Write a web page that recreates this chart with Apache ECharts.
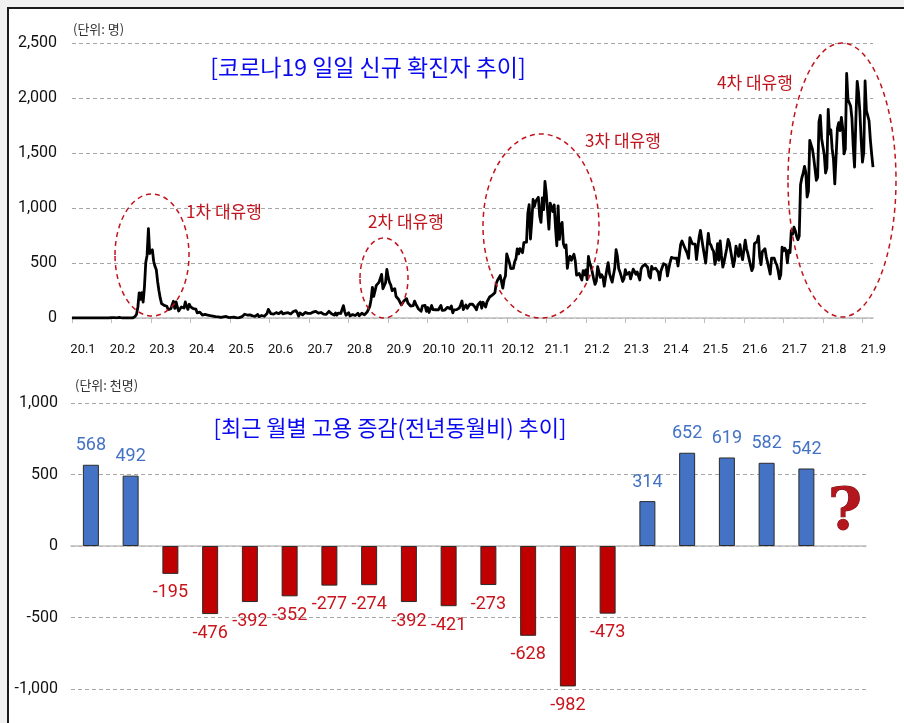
<!DOCTYPE html>
<html>
<head>
<meta charset="utf-8">
<title>코로나19 확진자와 고용 증감</title>
<script src="https://cdn.jsdelivr.net/npm/echarts@6/dist/echarts.min.js"></script>
<style>
  html, body { margin: 0; padding: 0; background: #f0f0f0; }
  #frame { position: absolute; left: 7px; top: 7px; width: 920px; height: 740px; border: 2px solid #1a1a1a; background: #fff; }
  #chart { position: absolute; left: 0; top: 0; width: 904px; height: 723px; }
</style>
</head>
<body>
<div id="frame"></div>
<div id="chart"></div>
<script>
// daily new confirmed cases, one row per month, from 2020-01-01
const caseStart = '2020-01-01'
const cases2020 = [
  0, 0, 0, 0, 0, 0, 0, 0, 0, 0, 0, 0, 0, 0, 0, 0, 0, 0, 0, 1, 0, 0, 0, 1, 0, 1, 1, 0, 0, 3, 4,
  1, 3, 0, 1, 2, 5, 1, 0, 3, 0, 1, 0, 0, 0, 0, 0, 1, 15, 34, 100, 229, 169, 231, 144, 284, 505, 571, 813, 586,
  599, 620, 516, 470, 438, 330, 248, 180, 131, 142, 114, 110, 107, 76, 74, 84, 93, 152, 87, 147, 98, 64, 76, 100, 104, 91, 146, 105, 78, 125, 101,
  89, 86, 94, 81, 47, 47, 53, 39, 27, 30, 32, 25, 27, 27, 22, 22, 18, 8, 13, 9, 11, 8, 6, 10, 10, 10, 14, 9, 4, 9,
  6, 13, 8, 3, 2, 2, 4, 3, 12, 18, 34, 35, 27, 26, 29, 27, 19, 13, 15, 13, 32, 12, 20, 23, 25, 16, 19, 40, 79, 58, 39,
  27, 35, 38, 49, 39, 39, 51, 57, 38, 50, 45, 56, 48, 34, 37, 43, 59, 49, 67, 48, 17, 46, 51, 28, 39, 51, 62, 42, 43, 42,
  51, 54, 63, 61, 48, 44, 62, 50, 45, 35, 44, 33, 39, 61, 60, 39, 34, 26, 45, 26, 45, 63, 41, 58, 113, 58, 25, 28, 48, 18, 36,
  31, 30, 23, 33, 43, 20, 34, 43, 36, 28, 34, 54, 56, 103, 166, 279, 197, 246, 297, 288, 324, 332, 397, 266, 280, 320, 441, 371, 323, 299, 248,
  235, 267, 195, 198, 168, 167, 119, 136, 156, 155, 176, 136, 121, 109, 106, 113, 153, 126, 110, 82, 70, 61, 110, 125, 114, 61, 95, 50, 38, 113,
  77, 63, 75, 64, 73, 75, 114, 69, 54, 72, 58, 97, 102, 84, 110, 47, 73, 91, 76, 58, 91, 121, 155, 77, 61, 119, 88, 103, 125, 114, 127,
  124, 97, 75, 118, 125, 145, 89, 143, 126, 100, 146, 143, 191, 205, 208, 223, 230, 313, 343, 363, 386, 330, 271, 349, 382, 583, 569, 504, 450, 438,
  451, 511, 540, 629, 583, 631, 615, 594, 686, 682, 689, 950, 1030, 718, 880, 1078, 1014, 1062, 1053, 1097, 926, 869, 1092, 985, 1241, 1132, 970, 808, 1045, 1050, 967
]
const cases2021 = [
  1029, 824, 657, 1020, 715, 840, 869, 674, 641, 665, 451, 537, 562, 524, 513, 580, 520, 389, 386, 404, 400, 346, 431, 392, 437, 349, 559, 497, 469, 458, 355,
  305, 336, 467, 451, 370, 393, 372, 289, 303, 444, 504, 403, 362, 326, 344, 457, 621, 561, 448, 416, 416, 332, 357, 440, 396, 406, 415, 355,
  344, 444, 424, 398, 418, 416, 346, 446, 470, 465, 488, 490, 459, 382, 363, 469, 445, 463, 452, 456, 415, 346, 428, 430, 494, 505, 482, 382, 447, 506, 551,
  557, 543, 558, 543, 473, 478, 668, 700, 671, 677, 614, 587, 542, 731, 698, 673, 658, 672, 532, 549, 735, 797, 785, 644, 644, 499, 512, 769, 680, 661,
  627, 606, 488, 541, 676, 525, 701, 564, 463, 511, 511, 635, 715, 681, 610, 619, 467, 528, 654, 646, 561, 666, 585, 530, 516, 707, 629, 587, 533, 480, 430,
  459, 677, 681, 695, 744, 556, 485, 602, 611, 630, 556, 565, 452, 399, 545, 540, 545, 507, 482, 429, 357, 395, 645, 610, 634, 614, 501, 614, 595, 794,
  762, 826, 794, 743, 711, 746, 1212, 1275, 1316, 1378, 1324, 1100, 1150, 1615, 1599, 1536, 1455, 1454, 1252, 1278, 1784, 1842, 1630, 1629, 1487, 1318, 1365, 1896, 1674, 1710, 1539,
  1442, 1219, 1202, 1725, 1776, 1704, 1823, 1729, 1492, 1537, 2223, 1987, 1990, 1928, 1816, 1556, 1372, 1805, 2152, 2050, 1880, 1626, 1417, 1507, 2155, 1882, 1840, 1793, 1619, 1487, 1372
]
// a label every 30 days on the case axis
const caseTickStep = 30
const monthLabels = ['20.1', '20.2', '20.3', '20.4', '20.5', '20.6', '20.7', '20.8', '20.9', '20.10', '20.11', '20.12',
  '21.1', '21.2', '21.3', '21.4', '21.5', '21.6', '21.7', '21.8', '21.9']
const caseTicks = [0, 500, 1000, 1500, 2000, 2500]

// monthly employment change vs. same month of previous year (thousand persons)
const jobMonths = ['20.1', '20.2', '20.3', '20.4', '20.5', '20.6', '20.7', '20.8', '20.9', '20.10', '20.11', '20.12',
  '21.1', '21.2', '21.3', '21.4', '21.5', '21.6', '21.7', '21.8']
const jobChange = [568, 492, -195, -476, -392, -352, -277, -274, -392, -421, -273, -628, -982, -473, 314, 652, 619, 582, 542, null]
const jobTicks = [-1000, -500, 0, 500, 1000]

const waveLabels = ['1차 대유행', '2차 대유행', '3차 대유행', '4차 대유행']

const BLUE = '#4472c4'
const RED = '#c00000'
const numFont = "'Liberation Sans Narrow', 'Roboto', sans-serif"
const krFont = "'Noto Sans CJK KR', sans-serif"

const days = []
const labelByDay = {}
const t0 = Date.parse(caseStart + 'T00:00:00Z')
const allCases = cases2020.concat(cases2021)
for (let i = 0; i < allCases.length; i++) {
  const d = new Date(t0 + i * 86400000).toISOString().slice(0, 10)
  days.push(d)
  if (i % caseTickStep === 0) labelByDay[d] = monthLabels[i / caseTickStep]
}

const fmtNum = v => v.toLocaleString('en-US')

const jobData = jobChange.map(v => {
  if (v === null) return null
  const pos = v >= 0
  return {
    value: v,
    itemStyle: { color: pos ? BLUE : RED },
    label: { position: pos ? 'top' : 'bottom', color: pos ? BLUE : '#c8141c' }
  }
})

const chart = echarts.init(document.getElementById('chart'))

// dashed ellipses round each wave, and their labels
const waves = [
  { cx: 152, cy: 255, rx: 37, ry: 61, tx: 224, ty: 212 },
  { cx: 384, cy: 278, rx: 24, ry: 40, tx: 406, ty: 222 },
  { cx: 541, cy: 226, rx: 58, ry: 92, tx: 623, ty: 141 },
  { cx: 842, cy: 180, rx: 54, ry: 137, tx: 755, ty: 83 }
]
const graphics = []
waves.forEach((w, i) => {
  graphics.push({
    type: 'ellipse', shape: { cx: w.cx, cy: w.cy, rx: w.rx, ry: w.ry }, silent: true,
    style: { fill: null, stroke: '#c0141c', lineWidth: 1.5, lineDash: [5, 4] }, z: 10
  })
  graphics.push({
    type: 'text', x: w.tx, y: w.ty, z: 10,
    style: { text: waveLabels[i], fill: '#c0141c', font: '17px ' + krFont, align: 'center', verticalAlign: 'middle' }
  })
})
graphics.push(
  { type: 'text', x: 368, y: 67, style: { text: '[코로나19 일일 신규 확진자 추이]', fill: '#0a0af0', font: '23px ' + krFont, align: 'center', verticalAlign: 'middle' } },
  { type: 'text', x: 390, y: 428, style: { text: '[최근 월별 고용 증감(전년동월비) 추이]', fill: '#0a0af0', font: '22px ' + krFont, align: 'center', verticalAlign: 'middle' } },
  { type: 'text', x: 73, y: 29, style: { text: '(단위: 명)', fill: '#333', font: '13px ' + krFont, align: 'left', verticalAlign: 'middle' } },
  { type: 'text', x: 75, y: 385, style: { text: '(단위: 천명)', fill: '#333', font: '13px ' + krFont, align: 'left', verticalAlign: 'middle' } },
  { type: 'text', x: 845, y: 514, style: { text: '?', fill: '#b3161c', font: 'bold 58px "DejaVu Serif", serif', align: 'center', verticalAlign: 'middle', stroke: '#6e0a0e', lineWidth: 1 } }
)

const option = {
  animation: false,
  grid: [
    { left: 72, right: 31, top: 43, height: 275 },
    { left: 71, right: 38, top: 403, height: 286 }
  ],
  xAxis: [
    {
      type: 'category', gridIndex: 0, data: days, boundaryGap: false,
      axisLine: { lineStyle: { color: '#bfbfbf', width: 1.5 } },
      axisTick: { interval: i => i % caseTickStep === 0, length: 5, lineStyle: { color: '#bfbfbf' } },
      axisLabel: {
        interval: i => i % caseTickStep === 0, formatter: v => labelByDay[v] || '',
        margin: 25, color: '#111', fontSize: 13, fontFamily: numFont, padding: [0, 0, 0, 22]
      }
    },
    {
      type: 'category', gridIndex: 1, data: jobMonths,
      axisLine: { onZero: true, lineStyle: { color: '#bfbfbf', width: 1.5 } },
      axisTick: { length: 5, lineStyle: { color: '#bfbfbf' } },
      axisLabel: { show: false }
    }
  ],
  yAxis: [
    {
      type: 'value', gridIndex: 0, min: caseTicks[0], max: caseTicks[caseTicks.length - 1], interval: 500,
      axisLine: { show: false }, axisTick: { show: false },
      axisLabel: { formatter: fmtNum, color: '#111', fontSize: 16, fontFamily: numFont, margin: 15 },
      splitLine: { lineStyle: { color: '#a6a6a6', type: [4, 3] } }
    },
    {
      type: 'value', gridIndex: 1, min: jobTicks[0], max: jobTicks[jobTicks.length - 1], interval: 500,
      axisLine: { show: false }, axisTick: { show: false },
      axisLabel: { formatter: fmtNum, color: '#111', fontSize: 16, fontFamily: numFont, margin: 13 },
      splitLine: { lineStyle: { color: '#a6a6a6', type: [4, 3] } }
    }
  ],
  series: [
    {
      name: '신규 확진자', type: 'line', xAxisIndex: 0, yAxisIndex: 0, data: allCases,
      showSymbol: false, symbol: 'none', sampling: null,
      lineStyle: { color: '#000', width: 2.8, join: 'round' }
    },
    {
      name: '고용 증감', type: 'bar', xAxisIndex: 1, yAxisIndex: 1, data: jobData, barWidth: 16,
      itemStyle: { borderColor: '#2b2b2b', borderWidth: 1 },
      label: { show: true, distance: 10, fontSize: 18, fontFamily: numFont, formatter: p => p.value }
    }
  ],
  graphic: graphics
}

chart.setOption(option)
</script>
</body>
</html>
